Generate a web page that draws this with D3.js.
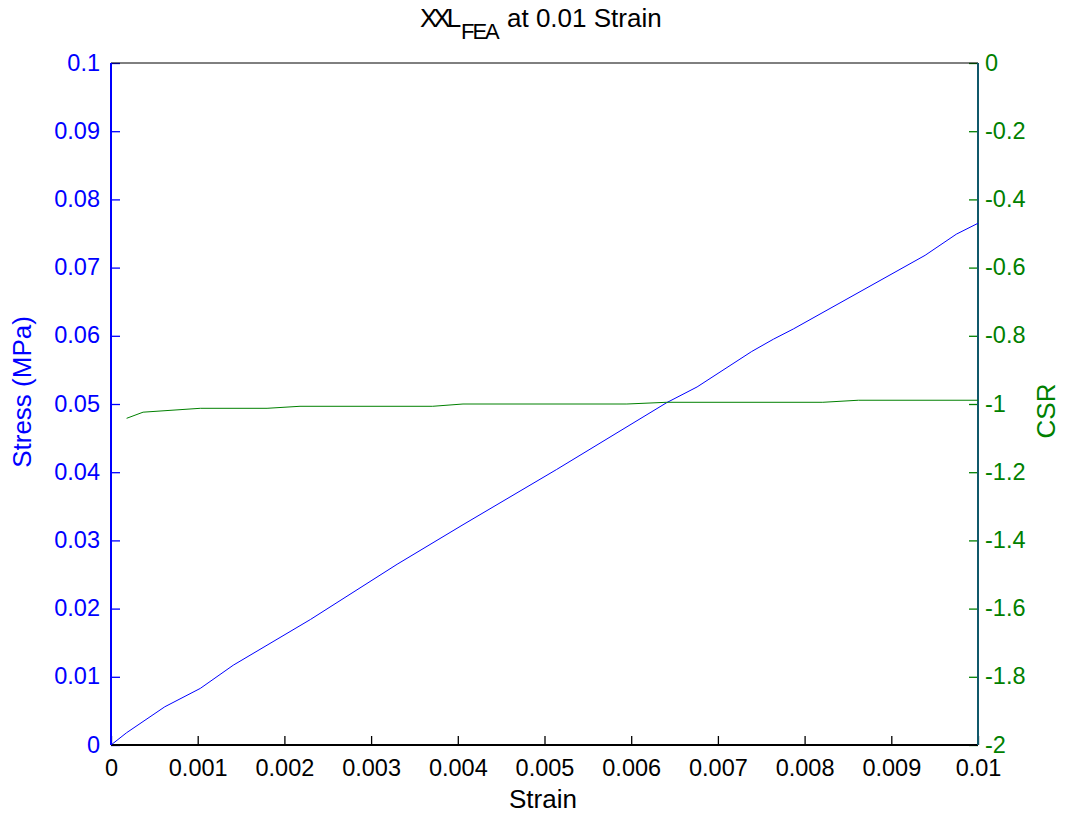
<!DOCTYPE html>
<html>
<head>
<meta charset="utf-8">
<script src="https://cdn.jsdelivr.net/npm/d3@7"></script>
<style>
  html, body { margin: 0; padding: 0; background: #fff; }
  svg { display: block; font-family: "Liberation Sans", Arial, Helvetica, sans-serif; }
</style>
</head>
<body>
<svg id="chart" width="1065" height="819"></svg>
<script>
// Stress response (left axis, MPa) against strain
const stressStrain = [0, 0.00018, 0.00062, 0.00103, 0.00141, 0.0023, 0.0033, 0.00406, 0.00514, 0.00641, 0.00676, 0.00739, 0.00764, 0.00787, 0.00939, 0.00975, 0.01];
const stressValues = [0, 0.0018, 0.0056, 0.0083, 0.0117, 0.0184, 0.0265, 0.0323, 0.0404, 0.0502, 0.0525, 0.0577, 0.0595, 0.0610, 0.0718, 0.0749, 0.0765];

// CSR (right axis) against strain
const csrStrain = [0.00018, 0.00037, 0.00103, 0.0018, 0.00218, 0.00371, 0.00406, 0.00595, 0.00641, 0.00821, 0.00862, 0.01];
const csrValues = [-1.042, -1.024, -1.0126, -1.0126, -1.0067, -1.0067, -1.000, -1.000, -0.995, -0.995, -0.989, -0.989];

// Tick values
const xTicks = [0, 0.001, 0.002, 0.003, 0.004, 0.005, 0.006, 0.007, 0.008, 0.009, 0.01];
const xTickLabels = ["0", "0.001", "0.002", "0.003", "0.004", "0.005", "0.006", "0.007", "0.008", "0.009", "0.01"];
const leftTicks = [0, 0.01, 0.02, 0.03, 0.04, 0.05, 0.06, 0.07, 0.08, 0.09, 0.1];
const leftTickLabels = ["0", "0.01", "0.02", "0.03", "0.04", "0.05", "0.06", "0.07", "0.08", "0.09", "0.1"];
const rightTicks = [0, -0.2, -0.4, -0.6, -0.8, -1, -1.2, -1.4, -1.6, -1.8, -2];
const rightTickLabels = ["0", "-0.2", "-0.4", "-0.6", "-0.8", "-1", "-1.2", "-1.4", "-1.6", "-1.8", "-2"];

const BLUE = "#0000ff", GREEN = "#008000", TEAL = "#10586a";
const plot = { left: 111, top: 63, width: 867, height: 682 };
const tickLen = 9;
const fontSize = 23.5;
const labelSize = 26;

const svg = d3.select("#chart");
const g = svg.append("g").attr("transform", `translate(${plot.left},${plot.top})`);

const x = d3.scaleLinear().domain([0, 0.01]).range([0, plot.width]);
const yL = d3.scaleLinear().domain([0, 0.1]).range([plot.height, 0]);
const yR = d3.scaleLinear().domain([-2, 0]).range([plot.height, 0]);

// Bottom axis: inward ticks, labels below
const xAxis = d3.axisBottom(x).tickValues(xTicks)
  .tickFormat((d, i) => xTickLabels[i]).tickSizeInner(-tickLen).tickSizeOuter(0);
const gx = g.append("g").attr("transform", `translate(0,${plot.height})`).call(xAxis);
gx.select(".domain").remove();
gx.selectAll(".tick line").attr("stroke", "#000").attr("stroke-width", 1.3);
gx.selectAll(".tick text").attr("fill", "#000").attr("font-size", fontSize)
  .attr("font-family", "Liberation Sans, Arial, sans-serif").attr("dy", null).attr("y", 31);

// Left axis (stress)
const yAxisL = d3.axisLeft(yL).tickValues(leftTicks)
  .tickFormat((d, i) => leftTickLabels[i]).tickSizeInner(-tickLen).tickSizeOuter(0).tickPadding(11);
const gl = g.append("g").call(yAxisL);
gl.select(".domain").remove();
gl.selectAll(".tick line").attr("stroke", BLUE).attr("stroke-width", 1.3);
gl.selectAll(".tick text").attr("fill", BLUE).attr("font-size", fontSize)
  .attr("font-family", "Liberation Sans, Arial, sans-serif").attr("dy", null).attr("y", 7);

// Right axis (CSR)
const yAxisR = d3.axisRight(yR).tickValues(rightTicks)
  .tickFormat((d, i) => rightTickLabels[i]).tickSizeInner(-tickLen).tickSizeOuter(0).tickPadding(7);
const gr = g.append("g").attr("transform", `translate(${plot.width},0)`).call(yAxisR);
gr.select(".domain").remove();
gr.selectAll(".tick line").attr("stroke", GREEN).attr("stroke-width", 1.3);
gr.selectAll(".tick text").attr("fill", GREEN).attr("font-size", fontSize)
  .attr("font-family", "Liberation Sans, Arial, sans-serif").attr("dy", null).attr("y", 7);

// Axes frame
g.append("line").attr("x1", 0).attr("x2", plot.width).attr("y1", 0).attr("y2", 0)
  .attr("stroke", "#000").attr("stroke-width", 1);
g.append("line").attr("x1", 0).attr("x2", plot.width).attr("y1", plot.height).attr("y2", plot.height)
  .attr("stroke", "#000").attr("stroke-width", 2);
g.append("line").attr("x1", 0).attr("x2", 0).attr("y1", 0).attr("y2", plot.height)
  .attr("stroke", BLUE).attr("stroke-width", 2);
g.append("line").attr("x1", plot.width).attr("x2", plot.width).attr("y1", 0).attr("y2", plot.height)
  .attr("stroke", TEAL).attr("stroke-width", 2);

// Data lines
const stressLine = d3.line().x((d, i) => x(stressStrain[i])).y(d => yL(d));
g.append("path").datum(stressValues).attr("d", stressLine)
  .attr("fill", "none").attr("stroke", BLUE).attr("stroke-width", 1);

const csrLine = d3.line().x((d, i) => x(csrStrain[i])).y(d => yR(d));
g.append("path").datum(csrValues).attr("d", csrLine)
  .attr("fill", "none").attr("stroke", GREEN).attr("stroke-width", 1);

// Title with subscript
const title = svg.append("text").attr("y", 27).attr("font-size", 26).attr("fill", "#000");
title.append("tspan").attr("x", 420).attr("letter-spacing", -4).text("XXL");
title.append("tspan").attr("x", 461).attr("dy", 12).attr("font-size", 22).attr("letter-spacing", -2).text("FEA");
title.append("tspan").attr("dy", -12).attr("x", 507).text("at 0.01 Strain");

// Axis labels
svg.append("text").attr("x", 543).attr("y", 808)
  .attr("text-anchor", "middle").attr("font-size", labelSize).attr("fill", "#000").text("Strain");
svg.append("text").attr("transform", `translate(31,${plot.top + plot.height / 2 - 12}) rotate(-90)`)
  .attr("text-anchor", "middle").attr("font-size", labelSize).attr("fill", BLUE).text("Stress (MPa)");
svg.append("text").attr("transform", `translate(1055,${plot.top + plot.height / 2 + 7}) rotate(-90)`)
  .attr("text-anchor", "middle").attr("font-size", labelSize).attr("fill", GREEN).text("CSR");
</script>
</body>
</html>
